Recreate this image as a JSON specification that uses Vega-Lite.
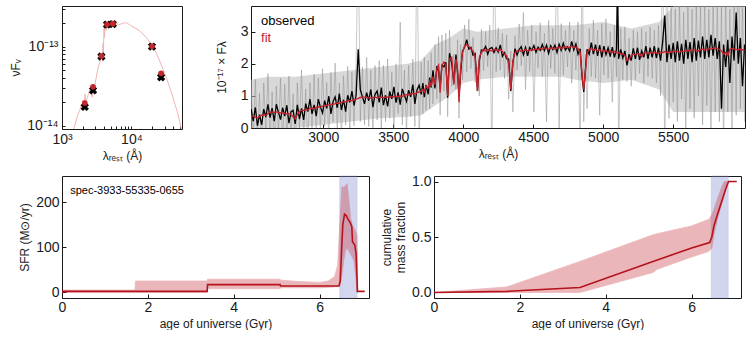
{
  "$schema": "https://vega.github.io/schema/vega-lite/v6.json",
  "padding": {"left": 9, "top": 5, "right": 0, "bottom": 0},
  "config": {
    "font": "Liberation Sans",
    "view": {"stroke": "#1a1a1a", "strokeWidth": 1},
    "axis": {"domain": false, "grid": false, "tickSize": -4, "tickColor": "#1a1a1a", "labelFontSize": 14, "labelColor": "#1a1a1a", "labelPadding": 6, "titleFontSize": 12, "titleFontWeight": "normal", "titleColor": "#1a1a1a", "labelFlush": false, "titlePadding": 4},
    "axisY": {"labelPadding": 7}
  },
  "datasets": {
    "env": [
      {"w":2484,"lo":0.0,"hi":1.5},{"w":2600,"lo":0.0,"hi":1.6},{"w":2800,"lo":0.0,"hi":1.6},{"w":3000,"lo":0.1,"hi":1.7},{"w":3200,"lo":0.2,"hi":1.8},
      {"w":3400,"lo":0.3,"hi":1.9},{"w":3600,"lo":0.35,"hi":2.0},{"w":3700,"lo":0.4,"hi":2.1},{"w":3800,"lo":0.7,"hi":2.6},{"w":3900,"lo":1.0,"hi":2.8},
      {"w":4000,"lo":1.4,"hi":3.1},{"w":4100,"lo":1.5,"hi":3.0},{"w":4300,"lo":1.6,"hi":3.1},{"w":4500,"lo":1.6,"hi":3.2},{"w":4700,"lo":1.6,"hi":3.2},
      {"w":4800,"lo":1.5,"hi":3.2},{"w":5000,"lo":1.4,"hi":3.3},{"w":5200,"lo":1.5,"hi":3.1},{"w":5400,"lo":1.2,"hi":3.3},{"w":5500,"lo":0.5,"hi":3.8},
      {"w":6013,"lo":0.5,"hi":3.8}
    ],
    "spec": [
      {"w":2485,"m":0.38,"o":0.59,"g":1.28},{"w":2500,"m":0.36,"o":0.21,"g":-0.45},{"w":2515,"m":0.34,"o":0.64,"g":1.51},{"w":2530,"m":0.31,"o":0.07,"g":-0.32},
      {"w":2545,"m":0.36,"o":0.42,"g":1.08},{"w":2560,"m":0.40,"o":0.10,"g":-0.68},{"w":2575,"m":0.41,"o":0.59,"g":1.40},{"w":2590,"m":0.40,"o":0.34,"g":-0.14},
      {"w":2605,"m":0.44,"o":0.74,"g":1.70},{"w":2620,"m":0.50,"o":0.32,"g":-0.40},{"w":2635,"m":0.50,"o":0.62,"g":1.13},{"w":2650,"m":0.48,"o":0.21,"g":-0.69},
      {"w":2665,"m":0.50,"o":0.74,"g":1.31},{"w":2680,"m":0.49,"o":0.49,"g":-0.23},{"w":2695,"m":0.47,"o":0.26,"g":1.55},{"w":2710,"m":0.48,"o":0.63,"g":-0.51},
      {"w":2725,"m":0.46,"o":0.37,"g":1.36},{"w":2740,"m":0.44,"o":0.71,"g":-0.37},{"w":2755,"m":0.45,"o":0.15,"g":1.62},{"w":2770,"m":0.42,"o":0.51,"g":-0.21},
      {"w":2785,"m":0.34,"o":0.55,"g":1.06},{"w":2800,"m":0.28,"o":0.13,"g":-0.80},{"w":2815,"m":0.42,"o":0.72,"g":1.41},{"w":2830,"m":0.52,"o":0.28,"g":-0.02},
      {"w":2845,"m":0.55,"o":0.61,"g":1.81},{"w":2860,"m":0.55,"o":0.25,"g":-0.35},{"w":2875,"m":0.58,"o":0.76,"g":1.21},{"w":2890,"m":0.57,"o":0.51,"g":-0.60},
      {"w":2905,"m":0.60,"o":0.90,"g":1.41},{"w":2920,"m":0.62,"o":0.44,"g":-0.10},{"w":2935,"m":0.60,"o":0.72,"g":1.68},{"w":2950,"m":0.64,"o":0.37,"g":-0.35},
      {"w":2965,"m":0.66,"o":0.90,"g":1.56},{"w":2980,"m":0.65,"o":0.65,"g":-0.16},{"w":2995,"m":0.68,"o":0.47,"g":1.85},{"w":3010,"m":0.70,"o":0.85,"g":0.07},
      {"w":3025,"m":0.70,"o":0.61,"g":1.42},{"w":3040,"m":0.72,"o":0.99,"g":-0.36},{"w":3055,"m":0.74,"o":0.44,"g":1.73},{"w":3070,"m":0.73,"o":0.82,"g":0.19},
      {"w":3085,"m":0.76,"o":0.97,"g":2.02},{"w":3100,"m":0.78,"o":0.63,"g":-0.12},{"w":3115,"m":0.77,"o":1.07,"g":1.40},{"w":3130,"m":0.80,"o":0.56,"g":-0.37},
      {"w":3145,"m":0.82,"o":0.88,"g":1.63},{"w":3160,"m":0.81,"o":0.51,"g":0.09},{"w":3175,"m":0.84,"o":1.02,"g":1.92},{"w":3190,"m":0.86,"o":0.80,"g":-0.13},
      {"w":3205,"m":0.85,"o":1.15,"g":1.75},{"w":3220,"m":0.88,"o":0.70,"g":0.07},{"w":3235,"m":0.90,"o":1.02,"g":2.07},{"w":3250,"m":0.92,"o":2.45,"g":6.0},
      {"w":3265,"m":0.95,"o":1.19,"g":0.20},{"w":3280,"m":0.97,"o":0.97,"g":1.90},{"w":3295,"m":0.96,"o":0.75,"g":0.10},{"w":3310,"m":0.95,"o":1.10,"g":2.20},
      {"w":3325,"m":0.94,"o":0.85,"g":0.05},{"w":3340,"m":0.93,"o":1.20,"g":1.80},{"w":3355,"m":0.95,"o":0.65,"g":-0.20},{"w":3370,"m":0.96,"o":1.05,"g":1.95},
      {"w":3385,"m":0.94,"o":1.15,"g":0.25},{"w":3400,"m":0.95,"o":0.80,"g":2.10},{"w":3415,"m":0.96,"o":1.26,"g":-0.05},{"w":3430,"m":0.95,"o":0.71,"g":1.95},
      {"w":3445,"m":0.96,"o":1.02,"g":0.20},{"w":3460,"m":0.97,"o":0.67,"g":2.15},{"w":3475,"m":0.96,"o":1.14,"g":0.30},{"w":3490,"m":0.97,"o":0.91,"g":1.75},
      {"w":3505,"m":0.98,"o":1.28,"g":-0.10},{"w":3520,"m":0.97,"o":0.79,"g":2.00},{"w":3535,"m":0.99,"o":1.11,"g":0.45},{"w":3550,"m":1.00,"o":0.73,"g":3.30},
      {"w":3565,"m":0.98,"o":1.22,"g":0.10},{"w":3580,"m":1.02,"o":1.02,"g":1.80},{"w":3595,"m":1.04,"o":0.83,"g":-0.15},{"w":3610,"m":1.03,"o":1.18,"g":1.95},
      {"w":3625,"m":1.06,"o":0.97,"g":0.35},{"w":3640,"m":1.08,"o":1.35,"g":2.15},{"w":3655,"m":1.05,"o":0.75,"g":0.05},{"w":3670,"m":1.10,"o":1.19,"g":6.0},
      {"w":3685,"m":1.12,"o":1.33,"g":-0.50},{"w":3700,"m":1.15,"o":1.05,"g":2.05},{"w":3712,"m":1.20,"o":1.40,"g":0.45},{"w":3722,"m":1.12,"o":0.96,"g":2.20},
      {"w":3734,"m":1.30,"o":1.34,"g":0.55},{"w":3750,"m":1.25,"o":1.05,"g":2.10},{"w":3760,"m":1.45,"o":1.57,"g":0.60},{"w":3771,"m":1.30,"o":1.26,"g":2.35},
      {"w":3784,"m":1.60,"o":1.80,"g":0.75},{"w":3798,"m":1.35,"o":1.23,"g":2.60},{"w":3812,"m":1.85,"o":1.93,"g":0.90},{"w":3824,"m":1.95,"o":1.77,"g":2.85},
      {"w":3835,"m":1.10,"o":1.26,"g":0.40},{"w":3848,"m":1.95,"o":1.95,"g":2.90},{"w":3862,"m":2.05,"o":1.91,"g":1.15},{"w":3876,"m":1.95,"o":2.05,"g":2.95},
      {"w":3889,"m":1.00,"o":0.94,"g":0.35},{"w":3902,"m":2.15,"o":2.33,"g":3.05},{"w":3918,"m":2.20,"o":2.00,"g":1.30},{"w":3933,"m":1.35,"o":1.41,"g":2.30},
      {"w":3948,"m":2.15,"o":2.29,"g":1.20},{"w":3960,"m":1.80,"o":1.70,"g":2.75},{"w":3970,"m":0.80,"o":1.00,"g":0.30},{"w":3982,"m":1.90,"o":1.74,"g":2.60},
      {"w":3995,"m":2.35,"o":2.39,"g":1.50},{"w":4010,"m":2.55,"o":2.52,"g":3.21},{"w":4025,"m":2.60,"o":2.75,"g":1.75},{"w":4040,"m":2.55,"o":2.46,"g":3.39},
      {"w":4055,"m":2.45,"o":2.51,"g":1.85},{"w":4070,"m":2.40,"o":2.27,"g":2.82},{"w":4085,"m":2.20,"o":2.32,"g":1.42},{"w":4102,"m":1.15,"o":1.15,"g":1.90},
      {"w":4115,"m":2.20,"o":2.10,"g":1.00},{"w":4130,"m":2.35,"o":2.43,"g":3.07},{"w":4145,"m":2.45,"o":2.41,"g":1.79},{"w":4160,"m":2.40,"o":2.54,"g":3.00},
      {"w":4175,"m":2.45,"o":2.30,"g":1.91},{"w":4190,"m":2.42,"o":2.47,"g":3.20},{"w":4205,"m":2.40,"o":2.51,"g":-1.0},{"w":4220,"m":2.45,"o":2.35,"g":6.0},
      {"w":4235,"m":2.44,"o":2.50,"g":1.75},{"w":4250,"m":2.40,"o":2.36,"g":3.12},{"w":4265,"m":2.45,"o":2.59,"g":1.80},{"w":4280,"m":2.38,"o":2.23,"g":2.95},
      {"w":4295,"m":2.30,"o":2.35,"g":1.54},{"w":4310,"m":2.25,"o":2.16,"g":2.90},{"w":4325,"m":2.00,"o":2.15,"g":0.90},{"w":4340,"m":1.20,"o":1.15,"g":2.40},
      {"w":4355,"m":2.10,"o":2.04,"g":0.50},{"w":4370,"m":2.35,"o":2.47,"g":2.88},{"w":4385,"m":2.40,"o":2.27,"g":1.81},{"w":4400,"m":2.42,"o":2.45,"g":3.24},
      {"w":4415,"m":2.38,"o":2.53,"g":1.94},{"w":4430,"m":2.40,"o":2.28,"g":3.60},{"w":4445,"m":2.45,"o":2.51,"g":1.20},{"w":4460,"m":2.40,"o":2.25,"g":3.05},
      {"w":4475,"m":2.42,"o":2.51,"g":1.76},{"w":4490,"m":2.45,"o":2.42,"g":3.20},{"w":4505,"m":2.43,"o":2.57,"g":0.50},{"w":4520,"m":2.46,"o":2.36,"g":3.00},
      {"w":4535,"m":2.44,"o":2.52,"g":1.86},{"w":4550,"m":2.48,"o":2.42,"g":3.28},{"w":4565,"m":2.45,"o":2.60,"g":1.60},{"w":4580,"m":2.50,"o":2.41,"g":2.95},
      {"w":4595,"m":2.47,"o":2.58,"g":0.20},{"w":4610,"m":2.45,"o":2.32,"g":3.35},{"w":4625,"m":2.50,"o":2.56,"g":1.85},{"w":4640,"m":2.48,"o":2.44,"g":3.10},
      {"w":4655,"m":2.46,"o":2.58,"g":1.70},{"w":4670,"m":2.50,"o":2.35,"g":6.0},{"w":4685,"m":2.52,"o":2.61,"g":0.0},{"w":4700,"m":2.48,"o":2.42,"g":3.25},
      {"w":4715,"m":2.50,"o":2.64,"g":1.65},{"w":4730,"m":2.53,"o":2.43,"g":3.05},{"w":4745,"m":2.50,"o":2.53,"g":1.90},{"w":4760,"m":2.52,"o":2.40,"g":3.30},
      {"w":4775,"m":2.55,"o":2.70,"g":1.40},{"w":4790,"m":2.50,"o":2.43,"g":3.05},{"w":4805,"m":2.52,"o":2.62,"g":1.80},{"w":4820,"m":2.48,"o":2.30,"g":3.30},
      {"w":4835,"m":2.35,"o":2.47,"g":-1.0},{"w":4850,"m":1.60,"o":1.55,"g":6.0},{"w":4861,"m":1.20,"o":1.12,"g":0.20},{"w":4872,"m":1.70,"o":1.75,"g":2.30},
      {"w":4885,"m":2.35,"o":2.45,"g":0.60},{"w":4900,"m":2.45,"o":2.30,"g":3.10},{"w":4915,"m":2.48,"o":2.66,"g":1.60},{"w":4930,"m":2.42,"o":2.30,"g":3.35},
      {"w":4945,"m":2.45,"o":2.60,"g":1.55},{"w":4960,"m":2.40,"o":2.25,"g":3.05},{"w":4975,"m":2.44,"o":2.58,"g":0.40},{"w":4990,"m":2.38,"o":2.20,"g":3.25},
      {"w":5005,"m":2.42,"o":2.55,"g":1.65},{"w":5020,"m":2.40,"o":2.28,"g":3.40},{"w":5035,"m":2.35,"o":2.50,"g":1.55},{"w":5050,"m":2.40,"o":2.22,"g":3.00},
      {"w":5065,"m":2.36,"o":2.52,"g":0.80},{"w":5080,"m":2.38,"o":2.20,"g":3.20},{"w":5095,"m":2.34,"o":2.45,"g":1.60},{"w":5102,"m":2.34,"o":4.50,"g":6.0},
      {"w":5110,"m":2.35,"o":2.15,"g":-1.0},{"w":5125,"m":2.30,"o":2.45,"g":3.10},{"w":5140,"m":2.32,"o":2.18,"g":1.50},{"w":5155,"m":2.25,"o":2.40,"g":3.15},
      {"w":5170,"m":2.10,"o":1.95,"g":1.45},{"w":5185,"m":2.15,"o":2.30,"g":2.80},{"w":5200,"m":2.25,"o":2.10,"g":1.30},{"w":5215,"m":2.30,"o":2.48,"g":3.05},
      {"w":5230,"m":2.28,"o":2.15,"g":1.50},{"w":5245,"m":2.32,"o":2.50,"g":3.00},{"w":5260,"m":2.30,"o":2.12,"g":1.70},{"w":5275,"m":2.22,"o":2.40,"g":3.10},
      {"w":5290,"m":2.33,"o":2.20,"g":1.40},{"w":5305,"m":2.35,"o":2.55,"g":3.00},{"w":5320,"m":2.32,"o":2.15,"g":1.60},{"w":5335,"m":2.35,"o":2.50,"g":3.15},
      {"w":5350,"m":2.33,"o":2.20,"g":1.55},{"w":5365,"m":2.36,"o":2.55,"g":3.05},{"w":5380,"m":2.34,"o":2.18,"g":1.40},{"w":5395,"m":2.32,"o":2.50,"g":3.20},
      {"w":5410,"m":2.36,"o":2.10,"g":1.00},{"w":5425,"m":2.35,"o":2.70,"g":6.0},{"w":5440,"m":2.38,"o":3.50,"g":-1.0},{"w":5455,"m":2.36,"o":2.05,"g":6.0},
      {"w":5470,"m":2.34,"o":2.60,"g":0.30},{"w":5485,"m":2.38,"o":2.15,"g":3.80},{"w":5500,"m":2.37,"o":2.65,"g":0.80},{"w":5515,"m":2.40,"o":2.05,"g":3.70},
      {"w":5530,"m":2.38,"o":2.70,"g":0.20},{"w":5545,"m":2.36,"o":2.10,"g":3.90},{"w":5560,"m":2.40,"o":2.62,"g":0.90},{"w":5575,"m":2.38,"o":2.00,"g":3.60},
      {"w":5590,"m":2.42,"o":2.75,"g":0.0},{"w":5605,"m":2.40,"o":2.15,"g":4.00},{"w":5620,"m":2.43,"o":2.68,"g":0.60},{"w":5635,"m":2.41,"o":2.05,"g":3.70},
      {"w":5650,"m":2.44,"o":2.80,"g":0.30},{"w":5665,"m":2.42,"o":2.10,"g":3.90},{"w":5680,"m":2.40,"o":2.72,"g":1.00},{"w":5695,"m":2.44,"o":2.20,"g":3.80},
      {"w":5710,"m":2.46,"o":2.85,"g":0.10},{"w":5725,"m":2.43,"o":2.15,"g":4.00},{"w":5740,"m":2.45,"o":2.75,"g":0.70},{"w":5755,"m":2.47,"o":2.20,"g":3.70},
      {"w":5770,"m":2.45,"o":2.90,"g":-0.50},{"w":5785,"m":2.48,"o":2.25,"g":4.20},{"w":5800,"m":2.50,"o":2.80,"g":0.50},{"w":5815,"m":2.47,"o":2.15,"g":3.90},
      {"w":5830,"m":2.45,"o":2.70,"g":0.20},{"w":5845,"m":2.40,"o":0.60,"g":3.80},{"w":5860,"m":2.30,"o":2.60,"g":-0.50},{"w":5875,"m":2.35,"o":1.90,"g":4.00},
      {"w":5890,"m":2.25,"o":2.75,"g":0.50},{"w":5905,"m":2.45,"o":1.40,"g":3.70},{"w":5920,"m":2.48,"o":2.85,"g":0.0},{"w":5935,"m":2.46,"o":2.10,"g":4.50},
      {"w":5950,"m":2.45,"o":3.60,"g":0.40},{"w":5965,"m":2.44,"o":2.00,"g":6.0},{"w":5980,"m":2.46,"o":2.80,"g":0.60},{"w":5995,"m":2.43,"o":1.30,"g":3.90},
      {"w":6010,"m":2.42,"o":2.60,"g":0.20}
    ],
    "sedm": [
      {"w":1400,"f":8.0e-15},{"w":1550,"f":1.05e-14},{"w":1700,"f":1.4e-14},{"w":1800,"f":1.55e-14},{"w":1900,"f":1.85e-14},{"w":1950,"f":1.6e-14},
      {"w":2000,"f":2.1e-14},{"w":2080,"f":1.7e-14},{"w":2150,"f":2.5e-14},{"w":2200,"f":1.9e-14},{"w":2290,"f":2.2e-14},{"w":2400,"f":2.5e-14},
      {"w":2500,"f":2.8e-14},{"w":2600,"f":2.6e-14},{"w":2740,"f":2.3e-14},{"w":2850,"f":2.9e-14},{"w":2960,"f":3.2e-14},{"w":3100,"f":4.0e-14},
      {"w":3300,"f":5.3e-14},{"w":3500,"f":6.3e-14},{"w":3700,"f":7.3e-14},{"w":3800,"f":8.0e-14},{"w":3850,"f":6.5e-14},{"w":3900,"f":1.1e-13},
      {"w":3950,"f":8.0e-14},{"w":4000,"f":1.35e-13},{"w":4050,"f":1.75e-13},{"w":4100,"f":1.3e-13},{"w":4150,"f":1.85e-13},{"w":4300,"f":1.9e-13},
      {"w":4340,"f":1.6e-13},{"w":4400,"f":1.95e-13},{"w":4600,"f":1.97e-13},{"w":4861,"f":1.8e-13},{"w":5000,"f":2.0e-13},{"w":5430,"f":2.06e-13},
      {"w":6000,"f":1.95e-13},{"w":6760,"f":1.9e-13},{"w":7500,"f":1.98e-13},{"w":8500,"f":2.0e-13},{"w":9300,"f":1.9e-13},{"w":10000,"f":1.82e-13},
      {"w":11500,"f":1.7e-13},{"w":13200,"f":1.58e-13},{"w":16400,"f":1.3e-13},{"w":20400,"f":1.02e-13},{"w":23000,"f":8.2e-14},{"w":25500,"f":6.6e-14},
      {"w":28500,"f":5.2e-14},{"w":31700,"f":4.1e-14},{"w":35000,"f":3.2e-14},{"w":39700,"f":2.3e-14},{"w":43000,"f":1.8e-14},{"w":46900,"f":1.4e-14},
      {"w":52500,"f":9.0e-15},{"w":55000,"f":7.0e-15}
    ],
    "sed": [
      {"w":2130,"obs":1.73e-14,"mod":1.94e-14},{"w":2800,"obs":2.8e-14,"mod":3.1e-14},{"w":3700,"obs":7.5e-14,"mod":7.6e-14},
      {"w":4450,"obs":1.9e-13,"mod":1.9e-13},{"w":5400,"obs":1.93e-13,"mod":1.95e-13},{"w":19800,"obs":1.0e-13,"mod":1.01e-13},
      {"w":26800,"obs":4.1e-14,"mod":4.6e-14}
    ],
    "sfrband": [
      {"t":0,"lo":0,"hi":5},{"t":1.7,"lo":0,"hi":5},{"t":1.71,"lo":0,"hi":25},{"t":3.38,"lo":0,"hi":25},{"t":3.39,"lo":8,"hi":29},
      {"t":5.08,"lo":8,"hi":29},{"t":5.09,"lo":10,"hi":27},{"t":5.5,"lo":10,"hi":24},{"t":6.0,"lo":10,"hi":22},{"t":6.2,"lo":11,"hi":25},
      {"t":6.35,"lo":12,"hi":35},{"t":6.42,"lo":13,"hi":60},{"t":6.47,"lo":15,"hi":150},{"t":6.52,"lo":40,"hi":235},{"t":6.56,"lo":70,"hi":232},
      {"t":6.6,"lo":92,"hi":236},{"t":6.64,"lo":98,"hi":241},{"t":6.68,"lo":92,"hi":205},{"t":6.72,"lo":85,"hi":165},{"t":6.76,"lo":78,"hi":150},
      {"t":6.8,"lo":70,"hi":142},{"t":6.85,"lo":30,"hi":132},{"t":6.87,"lo":0,"hi":125},{"t":6.89,"lo":0,"hi":0}
    ],
    "sfrmed": [
      {"t":0,"v":2},{"t":3.38,"v":2},{"t":3.39,"v":17},{"t":5.08,"v":17},{"t":5.09,"v":14},{"t":6.45,"v":14},{"t":6.48,"v":25},
      {"t":6.51,"v":90},{"t":6.54,"v":150},{"t":6.58,"v":173},{"t":6.62,"v":170},{"t":6.66,"v":162},{"t":6.72,"v":153},{"t":6.75,"v":145},
      {"t":6.765,"v":112},{"t":6.82,"v":105},{"t":6.85,"v":85},{"t":6.87,"v":30},{"t":6.88,"v":2},{"t":7.05,"v":2}
    ],
    "cmfband": [
      {"t":0,"lo":0,"hi":0},{"t":1.7,"lo":0,"hi":0.05},{"t":3.4,"lo":0,"hi":0.28},{"t":5.1,"lo":0.18,"hi":0.52},{"t":5.2,"lo":0.21,"hi":0.53},
      {"t":6.0,"lo":0.32,"hi":0.6},{"t":6.4,"lo":0.37,"hi":0.66},{"t":6.47,"lo":0.4,"hi":0.7},{"t":6.52,"lo":0.52,"hi":0.75},{"t":6.6,"lo":0.66,"hi":0.84},
      {"t":6.7,"lo":0.8,"hi":0.95},{"t":6.76,"lo":0.88,"hi":1.0},{"t":6.85,"lo":1.0,"hi":1.0},{"t":7.05,"lo":1.0,"hi":1.0}
    ],
    "cmfmed": [
      {"t":0,"v":0},{"t":1.7,"v":0.01},{"t":3.4,"v":0.045},{"t":5.1,"v":0.28},{"t":6.0,"v":0.4},{"t":6.42,"v":0.45},{"t":6.47,"v":0.5},
      {"t":6.52,"v":0.6},{"t":6.6,"v":0.7},{"t":6.7,"v":0.82},{"t":6.8,"v":0.94},{"t":6.86,"v":1.0},{"t":7.05,"v":1.0}
    ]
  },
  "spacing": 12,
  "vconcat": [
    {
      "bounds": "flush",
      "spacing": 69,
      "hconcat": [
        {
          "width": 120, "height": 123,
          "layer": [
            {"data": {"name": "sedm"}, "mark": {"type": "line", "color": "#f0b4b4", "strokeWidth": 1, "clip": true},
             "encoding": {
               "x": {"field": "w", "type": "quantitative", "scale": {"type": "log", "domain": [1000, 53600], "nice": false},
                     "axis": {"values": [1000,2000,3000,4000,5000,6000,7000,8000,9000,10000,20000,30000,40000,50000], "labelExpr": "datum.value == 1000 ? '10³' : datum.value == 10000 ? '10⁴' : ''", "title": "λᵣₑₛₜ (Å)", "tickSize": -3}},
               "y": {"field": "f", "type": "quantitative", "scale": {"type": "log", "domain": [9.1e-15, 3.26e-13], "nice": false},
                     "axis": {"values": [1e-14,2e-14,3e-14,4e-14,5e-14,6e-14,7e-14,8e-14,9e-14,1e-13,2e-13,3e-13], "labelExpr": "datum.value == 1e-13 ? '10⁻¹³' : datum.value == 1e-14 ? '10⁻¹⁴' : ''", "title": "νFᵥ", "tickSize": -3}}
             }},
            {"data": {"name": "sed"}, "mark": {"type": "point", "shape": "cross", "angle": 45, "filled": true, "color": "#000000", "size": 70, "opacity": 1},
             "encoding": {"x": {"field": "w", "type": "quantitative"}, "y": {"field": "obs", "type": "quantitative"}}},
            {"data": {"name": "sed"}, "mark": {"type": "circle", "color": "#c0282d", "size": 32, "opacity": 1},
             "encoding": {"x": {"field": "w", "type": "quantitative"}, "y": {"field": "mod", "type": "quantitative"}}}
          ]
        },
        {
          "width": 494, "height": 122,
          "layer": [
            {"data": {"name": "env"}, "mark": {"type": "area", "color": "#b8b8b8", "opacity": 0.55, "clip": true},
             "encoding": {
               "x": {"field": "w", "type": "quantitative", "scale": {"domain": [2484, 6013], "nice": false, "zero": false},
                     "axis": {"values": [3000,3500,4000,4500,5000,5500], "format": "d", "title": "λᵣₑₛₜ (Å)"}},
               "y": {"field": "lo", "type": "quantitative", "scale": {"domain": [0, 3.8], "nice": false, "zero": false}, "axis": {"values": [0,1,2,3], "title": "10⁻¹⁷ × Fλ", "titlePadding": 12}},
               "y2": {"field": "hi"}
             }},
            {"data": {"name": "spec"}, "mark": {"type": "line", "color": "#888888", "opacity": 0.45, "strokeWidth": 1, "clip": true},
             "encoding": {"x": {"field": "w", "type": "quantitative"}, "y": {"field": "g", "type": "quantitative"}}},
            {"data": {"name": "spec"}, "mark": {"type": "line", "color": "#000000", "strokeWidth": 1.3, "clip": true},
             "encoding": {"x": {"field": "w", "type": "quantitative"}, "y": {"field": "o", "type": "quantitative"}}},
            {"data": {"name": "spec"}, "mark": {"type": "line", "color": "#c8232c", "strokeWidth": 1.4, "clip": true},
             "encoding": {"x": {"field": "w", "type": "quantitative"}, "y": {"field": "m", "type": "quantitative"}}},
            {"data": {"values": [{"label": "observed"}]}, "mark": {"type": "text", "align": "left", "baseline": "middle", "fontSize": 13, "color": "#000000"},
             "encoding": {"x": {"datum": 2556}, "y": {"datum": 3.32}, "text": {"field": "label"}}},
            {"data": {"values": [{"label": "fit"}]}, "mark": {"type": "text", "align": "left", "baseline": "middle", "fontSize": 13, "color": "#c8232c"},
             "encoding": {"x": {"datum": 2556}, "y": {"datum": 2.81}, "text": {"field": "label"}}}
          ]
        }
      ]
    },
    {
      "bounds": "flush",
      "spacing": 65,
      "hconcat": [
        {
          "width": 307, "height": 122,
          "layer": [
            {"data": {"values": [{"phase": "burst"}]}, "mark": {"type": "rect", "color": "#8b93d3", "opacity": 0.38, "stroke": "#6f78c8", "strokeWidth": 0.8},
             "encoding": {"x": {"datum": 6.47, "type": "quantitative", "scale": {"domain": [0, 7.15], "nice": false}, "axis": {"values": [0,2,4,6], "title": "age of universe (Gyr)"}}, "x2": {"datum": 6.87}}},
            {"data": {"name": "sfrband"}, "mark": {"type": "area", "color": "#c8323c", "opacity": 0.35, "stroke": "#c8323c", "strokeWidth": 0.8, "clip": true},
             "encoding": {"x": {"field": "t", "type": "quantitative"}, "y": {"field": "lo", "type": "quantitative", "scale": {"domain": [-12.6, 257.8], "nice": false, "zero": false}, "axis": {"values": [0,100,200], "title": "SFR (M⊙/yr)"}}, "y2": {"field": "hi"}}},
            {"data": {"name": "sfrmed"}, "mark": {"type": "line", "color": "#b5121b", "strokeWidth": 1.6, "clip": true},
             "encoding": {"x": {"field": "t", "type": "quantitative"}, "y": {"field": "v", "type": "quantitative"}}},
            {"data": {"values": [{"label": "spec-3933-55335-0655"}]}, "mark": {"type": "text", "align": "left", "baseline": "middle", "fontSize": 11, "color": "#000000"},
             "encoding": {"x": {"datum": 0.19}, "y": {"datum": 224}, "text": {"field": "label"}}}
          ]
        },
        {
          "width": 307, "height": 122,
          "layer": [
            {"data": {"values": [{"phase": "burst"}]}, "mark": {"type": "rect", "color": "#8b93d3", "opacity": 0.38, "stroke": "#6f78c8", "strokeWidth": 0.8},
             "encoding": {"x": {"datum": 6.46, "type": "quantitative", "scale": {"domain": [0, 7.15], "nice": false}, "axis": {"values": [0,2,4,6], "title": "age of universe (Gyr)"}}, "x2": {"datum": 6.85}}},
            {"data": {"name": "cmfband"}, "mark": {"type": "area", "color": "#c8323c", "opacity": 0.35, "stroke": "#c8323c", "strokeWidth": 0.8, "clip": true},
             "encoding": {"x": {"field": "t", "type": "quantitative"}, "y": {"field": "lo", "type": "quantitative", "scale": {"domain": [-0.05, 1.05], "nice": false, "zero": false}, "axis": {"values": [0,0.5,1], "format": ".1f", "title": ["cumulative", "mass fraction"]}}, "y2": {"field": "hi"}}},
            {"data": {"name": "cmfmed"}, "mark": {"type": "line", "color": "#b5121b", "strokeWidth": 1.6, "clip": true},
             "encoding": {"x": {"field": "t", "type": "quantitative"}, "y": {"field": "v", "type": "quantitative"}}}
          ]
        }
      ]
    }
  ]
}
